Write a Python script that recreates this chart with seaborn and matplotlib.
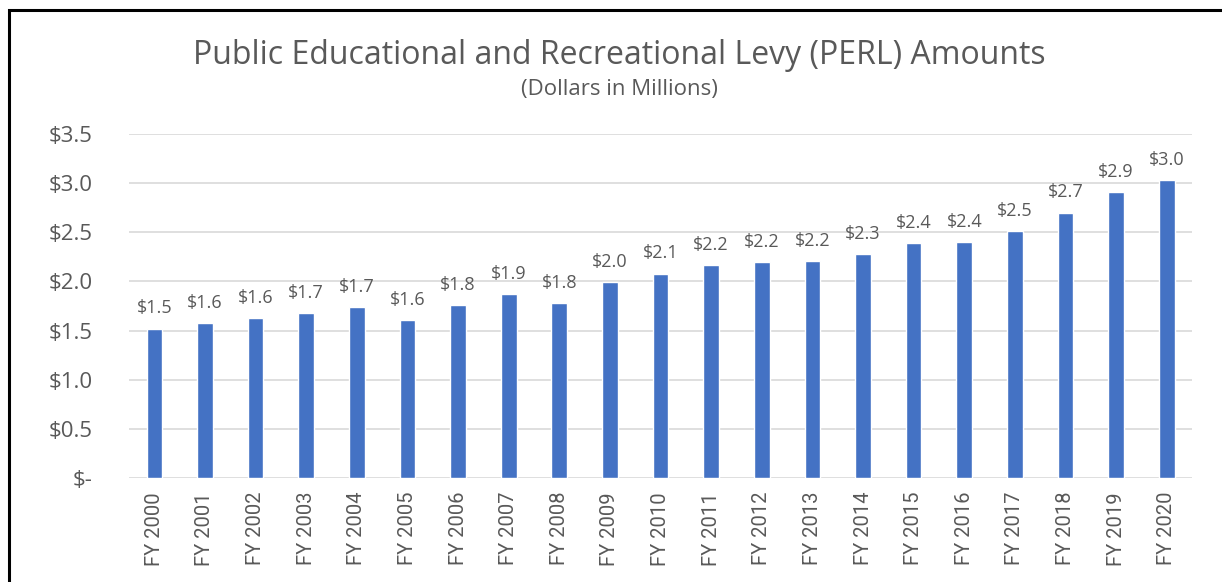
import matplotlib
matplotlib.use("Agg")
import matplotlib.pyplot as plt
import seaborn as sns
import pandas as pd
from matplotlib.patches import Rectangle

# values (millions of dollars)
years = ["FY 2000", "FY 2001", "FY 2002", "FY 2003", "FY 2004", "FY 2005", "FY 2006",
         "FY 2007", "FY 2008", "FY 2009", "FY 2010", "FY 2011", "FY 2012", "FY 2013",
         "FY 2014", "FY 2015", "FY 2016", "FY 2017", "FY 2018", "FY 2019", "FY 2020"]
amounts = [1.52, 1.58, 1.63, 1.68, 1.74, 1.61, 1.76, 1.87, 1.78, 1.99, 2.08,
           2.17, 2.20, 2.21, 2.28, 2.39, 2.40, 2.51, 2.70, 2.91, 3.03]
yticks = [0, 0.5, 1.0, 1.5, 2.0, 2.5, 3.0, 3.5]
ytick_labels = ["$-", "$0.5", "$1.0", "$1.5", "$2.0", "$2.5", "$3.0", "$3.5"]

df = pd.DataFrame({"year": years, "amount": amounts})

sns.set_style("white")
plt.rcParams["font.family"] = ["Open Sans", "DejaVu Sans"]
grey = "#595959"

fig = plt.figure(figsize=(12.22, 5.82), dpi=100)
ax = fig.add_axes([0.1056, 0.1787, 0.8699, 0.5911])

sns.barplot(data=df, x="year", y="amount", color="#4472C4", saturation=1,
            width=0.31, ax=ax)

ax.set_ylim(0, 3.5)
ax.set_xlim(-0.5, len(years) - 0.5)
ax.set_yticks(yticks)
ax.set_yticklabels(ytick_labels, color=grey, fontsize=16)
ax.yaxis.grid(True, color="#d9d9d9", linewidth=1.2)
ax.set_axisbelow(True)
for s in ax.spines.values():
    s.set_visible(False)
ax.tick_params(axis="both", length=0)
ax.tick_params(axis="y", pad=26)
ax.set_xlabel("")
ax.set_ylabel("")
ax.set_xticks(range(len(years)))
ax.set_xticklabels(years, rotation=90, color=grey, fontsize=14.5,
                   family=["Roboto", "DejaVu Sans"])
ax.tick_params(axis="x", pad=10)

ax.bar_label(ax.containers[0], fmt="${:.1f}", padding=8, color=grey, fontsize=13)

fig.text(0.507, 0.905, "Public Educational and Recreational Levy (PERL) Amounts",
         ha="center", va="center", fontsize=23, color=grey)
fig.text(0.507, 0.847, "(Dollars in Millions)", ha="center", va="center",
         fontsize=16, color=grey)

# outer border of the pasted chart
fig.patches.append(Rectangle((9 / 1222, -0.05), 1.2, 1 - 10 / 582 + 0.05,
                             transform=fig.transFigure, fill=False,
                             edgecolor="black", linewidth=2.2))

fig.savefig("out.png", dpi=100)
